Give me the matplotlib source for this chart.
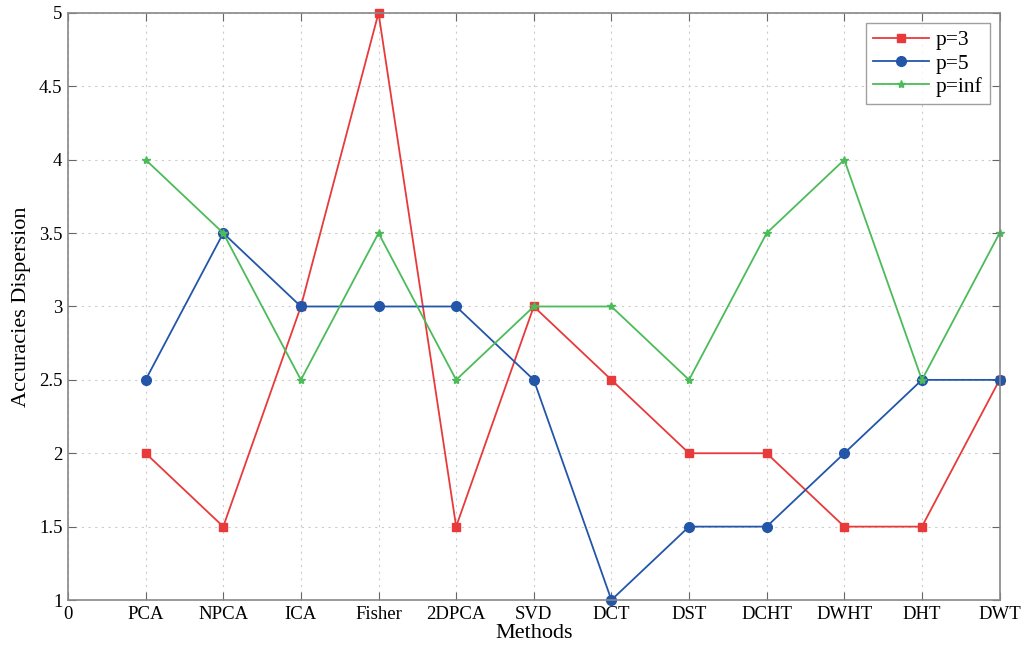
import matplotlib
matplotlib.use("Agg")
import matplotlib.pyplot as plt

methods = ["PCA", "NPCA", "ICA", "Fisher", "2DPCA", "SVD", "DCT", "DST", "DCHT", "DWHT", "DHT", "DWT"]
p3 = [2, 1.5, 3, 5, 1.5, 3, 2.5, 2, 2, 1.5, 1.5, 2.5]
p5 = [2.5, 3.5, 3, 3, 3, 2.5, 1, 1.5, 1.5, 2, 2.5, 2.5]
pinf = [4, 3.5, 2.5, 3.5, 2.5, 3, 3, 2.5, 3.5, 4, 2.5, 3.5]
xticklabels = ["0"] + methods
yticks = [1, 1.5, 2, 2.5, 3, 3.5, 4, 4.5, 5]

plt.rcParams['font.family'] = ['Liberation Serif', 'DejaVu Serif']

fig = plt.figure(figsize=(10.21, 6.49), dpi=100)
ax = fig.add_axes([0.0666, 0.0755, 0.9124, 0.9045])

x = list(range(1, len(methods) + 1))
ax.plot(x, p3, color='#e83a3a', marker='s', markersize=6, lw=1.3, label='p=3', clip_on=False)
ax.plot(x, p5, color='#2356a8', marker='o', markersize=7, lw=1.3, label='p=5', clip_on=False)
ax.plot(x, pinf, color='#4cbb5a', marker='*', markersize=6, lw=1.3, label='p=inf', clip_on=False)

ax.set_xlim(0, 12)
ax.set_ylim(1, 5)
ax.set_xticks(range(0, 13))
ax.set_xticklabels(xticklabels, fontsize=13.5)
ax.set_yticks(yticks)
ax.set_yticklabels([f"{v:g}" for v in yticks], fontsize=13.5)
ax.tick_params(direction='in', length=6, color='#666666', top=True, right=True, pad=4)
ax.grid(True, linestyle=(0, (2, 4)), color='#cccccc', lw=0.8)
for s in ax.spines.values():
    s.set_color('#888888')
    s.set_linewidth(1.2)

ax.set_xlabel('Methods', fontsize=16, labelpad=1)
ax.set_ylabel('Accuracies Dispersion', fontsize=16, labelpad=6)

leg = ax.legend(loc='upper right', fontsize=15.5, frameon=True, fancybox=False,
                edgecolor='#888888', handlelength=2.6, borderaxespad=0.45,
                labelspacing=0.15, handletextpad=0.3, borderpad=0.35)
leg.get_frame().set_linewidth(1.0)

fig.savefig('out.png', dpi=100)
